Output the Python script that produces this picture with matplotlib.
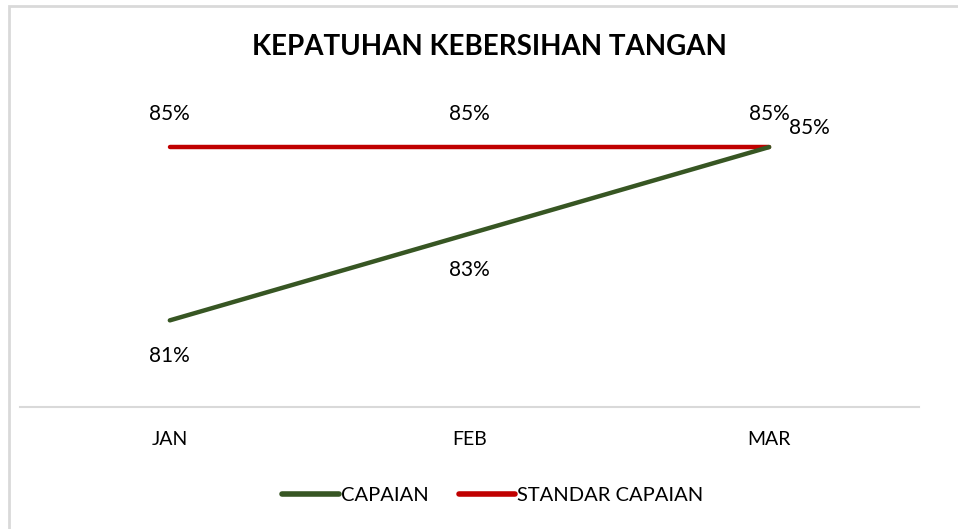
import matplotlib.pyplot as plt
from matplotlib.patches import Rectangle

months = ["JAN", "FEB", "MAR"]
capaian = [81, 83, 85]
standar = [85, 85, 85]
series_names = ["CAPAIAN", "STANDAR CAPAIAN"]
title = "KEPATUHAN KEBERSIHAN TANGAN"

green = "#375623"
red = "#C00000"

plt.rcParams["font.family"] = ["Lato", "DejaVu Sans"]

fig = plt.figure(figsize=(9.58, 5.29), dpi=100)
W, H = 958, 529
ax = fig.add_axes([20 / W, 1 - 407 / H, (919 - 20) / W, (407 - 103.75) / H])

x = list(range(len(months)))
ax.plot(x, capaian, color=green, linewidth=3.2, solid_capstyle="round",
        label=series_names[0], zorder=3)
ax.plot(x, standar, color=red, linewidth=3.2, solid_capstyle="round",
        label=series_names[1], zorder=2)

ax.set_xlim(-0.5, 2.5)
ax.set_ylim(79, 86)

for i, v in enumerate(standar):
    ax.annotate(f"{v}%", (i, v), xytext=(0, 24), textcoords="offset points",
                ha="center", va="center", fontsize=15)
for i, v in enumerate(capaian):
    if i == len(capaian) - 1:
        ax.annotate(f"{v}%", (i, v), xytext=(29, 14), textcoords="offset points",
                    ha="center", va="center", fontsize=15)
    else:
        ax.annotate(f"{v}%", (i, v), xytext=(0, -26), textcoords="offset points",
                    ha="center", va="center", fontsize=15)

ax.set_xticks(x, labels=months)
ax.set_yticks([])
ax.tick_params(axis="x", length=0, pad=17, labelsize=14)
for s in ["top", "left", "right"]:
    ax.spines[s].set_visible(False)
ax.spines["bottom"].set_color("#d9d9d9")
ax.spines["bottom"].set_linewidth(1.5)

fig.text(489 / W, 1 - 47 / H, title, ha="center", va="center",
         fontsize=20, fontweight="bold")

leg = fig.legend(loc="center", bbox_to_anchor=(493 / W, 1 - 495 / H),
                 ncol=2, frameon=False, fontsize=14.5, handlelength=2.8,
                 handletextpad=0.1, columnspacing=1.5)
for line in leg.get_lines():
    line.set_linewidth(4)

fig.patches.append(Rectangle((9 / W, -0.1), 1.2, 1 - 6 / H + 0.1,
                             transform=fig.transFigure, fill=False,
                             edgecolor="#d9d9d9", linewidth=2))

fig.savefig("out.png", dpi=100)
